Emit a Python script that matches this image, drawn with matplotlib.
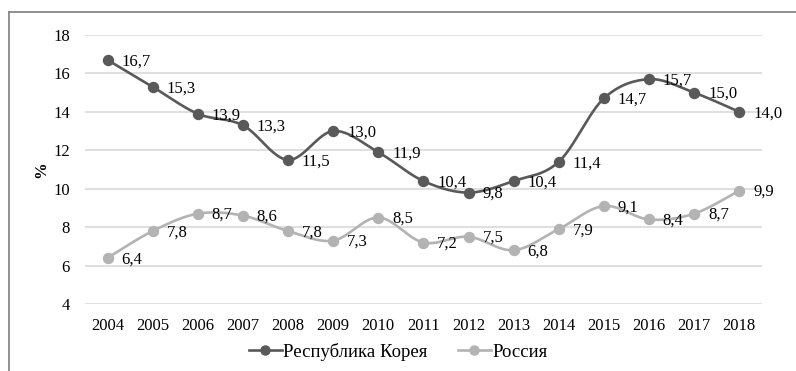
import numpy as np
import matplotlib
matplotlib.use("Agg")
import matplotlib.pyplot as plt
from matplotlib.lines import Line2D

years = ["2004", "2005", "2006", "2007", "2008", "2009", "2010", "2011",
         "2012", "2013", "2014", "2015", "2016", "2017", "2018"]
korea = [16.7, 15.3, 13.9, 13.3, 11.5, 13.0, 11.9, 10.4, 9.8, 10.4, 11.4, 14.7, 15.7, 15.0, 14.0]
russia = [6.4, 7.8, 8.7, 8.6, 7.8, 7.3, 8.5, 7.2, 7.5, 6.8, 7.9, 9.1, 8.4, 8.7, 9.9]
y_ticks = [4, 6, 8, 10, 12, 14, 16, 18]

plt.rcParams["font.family"] = ["Liberation Serif", "DejaVu Serif"]
FS = 12


def smooth(xs, ys, n=30):
    """Cubic Bezier smoothing through every point (control = P +/- (Pnext-Pprev)/6)."""
    P = np.column_stack([xs, ys]).astype(float)
    out = []
    m = len(P)
    for i in range(m - 1):
        p0 = P[i - 1] if i > 0 else P[i]
        p1, p2 = P[i], P[i + 1]
        p3 = P[i + 2] if i + 2 < m else P[i + 1]
        c1 = p1 + (p2 - p0) / 6.0
        c2 = p2 - (p3 - p1) / 6.0
        t = np.linspace(0, 1, n)[:, None]
        seg = ((1 - t) ** 3) * p1 + 3 * ((1 - t) ** 2) * t * c1 + 3 * (1 - t) * t ** 2 * c2 + t ** 3 * p2
        out.append(seg if i == 0 else seg[1:])
    s = np.vstack(out)
    return s[:, 0], s[:, 1]


fig = plt.figure(figsize=(7.96, 3.71), dpi=100)
ax = fig.add_axes([0.1068, 0.1806, 0.8502, 0.7251])

x = np.arange(len(years))
series = [("Республика Корея", korea, "#595959"), ("Россия", russia, "#b3b3b3")]
for name, vals, col in series:
    sx, sy = smooth(x, vals)
    ax.plot(sx, sy, color=col, lw=1.9, zorder=3, solid_capstyle="round")
    ax.plot(x, vals, "o", color=col, ms=7.2, zorder=4)
    for xi, v in zip(x, vals):
        ax.annotate(f"{v:.1f}".replace(".", ","), (xi, v), xytext=(10, -1),
                    textcoords="offset points", ha="left", va="center",
                    fontsize=FS, color="black", zorder=5)

ax.set_xlim(-0.5, len(years) - 0.5)
ax.set_ylim(4, 18)
ax.set_yticks(y_ticks)
ax.set_xticks(x)
ax.set_xticklabels(years)
ax.grid(axis="y", color="#d9d9d9", lw=1.2)
ax.set_axisbelow(True)
for sp in ax.spines.values():
    sp.set_visible(False)
ax.tick_params(length=0, labelsize=FS, colors="black")
ax.tick_params(axis="y", pad=11)
ax.tick_params(axis="x", pad=10)
ax.set_ylabel("%", fontsize=FS, fontweight="bold", labelpad=3)

handles = [Line2D([], [], color=c, lw=1.9, marker="o", ms=6.5) for _, _, c in series]
fig.legend(handles, [n for n, _, _ in series], loc="center",
           bbox_to_anchor=(398 / 796, 1 - 352 / 371), ncol=2, frameon=False,
           fontsize=13.5, handlelength=1.8, handletextpad=0.05, columnspacing=1.6)

# chart frame
fig.add_artist(Line2D([9 / 796, 1], [1 - 12 / 371, 1 - 12 / 371], color="#7f7f7f", lw=1.2,
                      transform=fig.transFigure))
fig.add_artist(Line2D([9 / 796, 9 / 796], [0, 1 - 12 / 371], color="#7f7f7f", lw=1.2,
                      transform=fig.transFigure))

fig.savefig("out.png", dpi=100)
